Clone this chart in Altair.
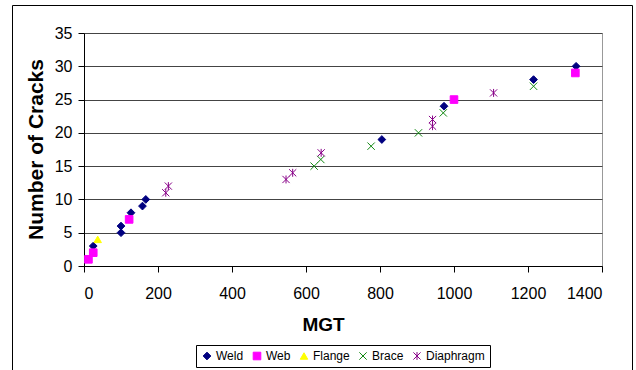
import altair as alt
import pandas as pd

series_order = ["Weld", "Web", "Flange", "Brace", "Diaphragm"]

weld_mgt = [25, 100, 100, 127, 158, 167, 805, 973, 1215, 1330]
weld_cracks = [3, 5, 6, 8, 9, 10, 19, 24, 28, 30]

web_mgt = [12, 25, 122, 1000, 1328]
web_cracks = [1, 2, 7, 25, 29]

flange_mgt = [37]
flange_cracks = [4]

brace_mgt = [622, 640, 776, 904, 971, 1215]
brace_cracks = [15, 16, 18, 20, 23, 27]

diaphragm_mgt = [221, 228, 546, 564, 641, 942, 942, 1107]
diaphragm_cracks = [11, 12, 13, 14, 17, 21, 22, 26]

x_ticks = [0, 200, 400, 600, 800, 1000, 1200, 1400]
y_ticks = [0, 5, 10, 15, 20, 25, 30, 35]

rows = []
for name, xs, ys in [
    ("Weld", weld_mgt, weld_cracks),
    ("Web", web_mgt, web_cracks),
    ("Flange", flange_mgt, flange_cracks),
    ("Brace", brace_mgt, brace_cracks),
    ("Diaphragm", diaphragm_mgt, diaphragm_cracks),
]:
    for x, y in zip(xs, ys):
        rows.append({"MGT": x, "Cracks": y, "Series": name})
df = pd.DataFrame(rows)

FONT = "Liberation Sans"

shape_range = [
    "diamond",
    "square",
    "triangle-up",
    "M-1,-1L1,1M-1,1L1,-1",
    "M-1,-1L1,1M-1,1L1,-1M0,-1.1L0,1.1",
]
fill_range = ["#000080", "#FF00FF", "#FFFF00", "transparent", "transparent"]
stroke_range = ["#000080", "#FF00FF", "#FFFF00", "#118811", "#880088"]
size_range = [60, 52, 95, 85, 85]

legend = alt.Legend(
    title=None,
    orient="none",
    direction="horizontal",
    legendX=112,
    legendY=312,
    padding=5,
    strokeColor="#000000",
    fillColor="#FFFFFF",
    labelFont=FONT,
    labelFontSize=12,
    labelColor="#000000",
    labelOffset=3,
    columnPadding=7,
    symbolStrokeWidth=1,
)

points = alt.Chart(df).mark_point(opacity=1, fillOpacity=1, strokeWidth=1).encode(
    x=alt.X(
        "MGT:Q",
        scale=alt.Scale(domain=[0, 1400], nice=False),
        axis=alt.Axis(
            values=x_ticks,
            format="d",
            title="MGT",
            titleFont=FONT,
            titleFontSize=19,
            titleFontWeight="bold",
            titleColor="#000000",
            titleX=239,
            titleY=64,
            titleAlign="center",
            titleBaseline="alphabetic",
            labelFont=FONT,
            labelFontSize=16,
            labelColor="#000000",
            labelPadding=13,
            tickSize=6,
            tickColor="#000000",
            domainColor="#000000",
            grid=False,
        ),
    ),
    y=alt.Y(
        "Cracks:Q",
        scale=alt.Scale(domain=[0, 35], nice=False),
        axis=alt.Axis(
            values=y_ticks,
            title="Number of Cracks",
            titleFont=FONT,
            titleFontSize=21,
            titleFontWeight="bold",
            titleColor="#000000",
            titleX=-42,
            titleY=116,
            titleAngle=270,
            titleAlign="center",
            titleBaseline="alphabetic",
            labelFont=FONT,
            labelFontSize=16,
            labelColor="#000000",
            labelPadding=6,
            tickSize=6,
            tickColor="#000000",
            domainColor="#000000",
            grid=True,
            gridColor="#444444",
            gridWidth=1,
        ),
    ),
    shape=alt.Shape("Series:N", scale=alt.Scale(domain=series_order, range=shape_range), legend=legend),
    fill=alt.Fill("Series:N", scale=alt.Scale(domain=series_order, range=fill_range), legend=legend),
    stroke=alt.Stroke("Series:N", scale=alt.Scale(domain=series_order, range=stroke_range), legend=legend),
    size=alt.Size("Series:N", scale=alt.Scale(domain=series_order, range=size_range), legend=legend),
)

frame = alt.Chart(pd.DataFrame({"k": [0]})).mark_rect(
    fill="transparent", stroke="#000000", strokeWidth=1
).encode(
    x=alt.value(-71.5),
    x2=alt.value(548.5),
    y=alt.value(-27.5),
    y2=alt.value(420),
)

chart = alt.layer(frame, points).properties(
    width=518,
    height=233,
    padding={"left": 84, "top": 33, "right": 34, "bottom": 104},
    autosize=alt.AutoSizeParams(type="none"),
    background="#FFFFFF",
).configure_view(stroke="#999999", strokeWidth=1)

chart.save("out.html", embed_options={"renderer": "svg", "actions": False})
